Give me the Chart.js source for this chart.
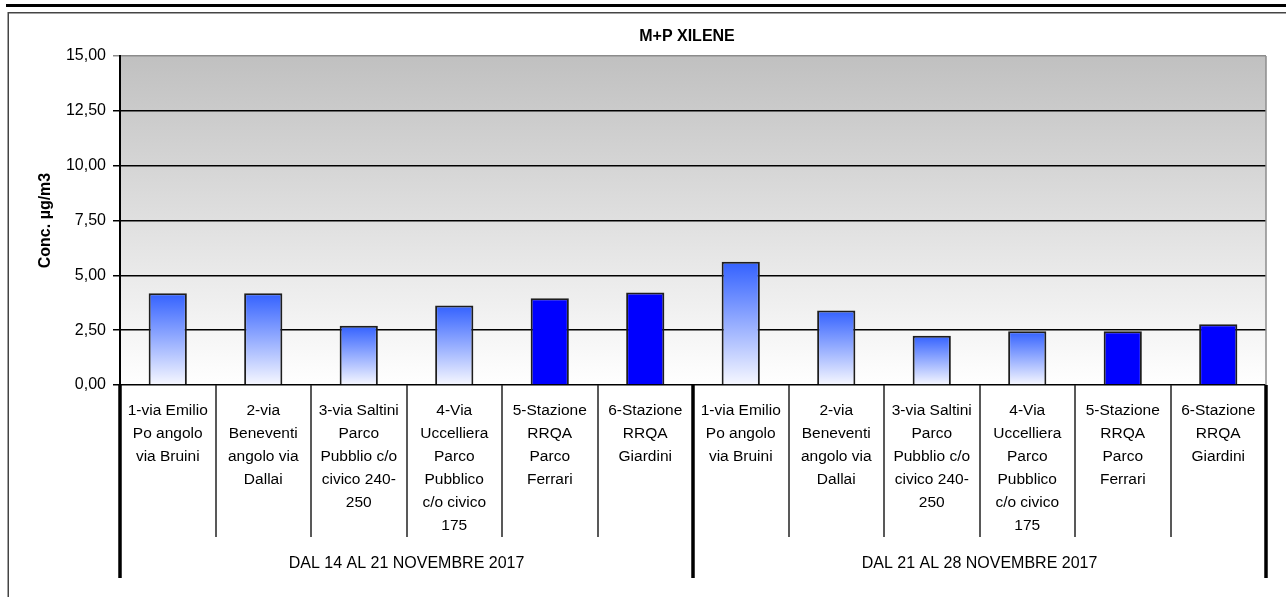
<!DOCTYPE html>
<html>
<head>
<meta charset="utf-8">
<title>M+P XILENE</title>
<script src="https://cdn.jsdelivr.net/npm/chart.js@4.4.1/dist/chart.umd.min.js"></script>
<style>
  html, body { margin: 0; padding: 0; background: #fff; }
  canvas { display: block; }
</style>
</head>
<body>
<canvas id="chart" width="1286" height="597"></canvas>
<script>
// stations, label already split in lines like the sheet shows them
const stations = [
    ['1-via Emilio', 'Po angolo', 'via Bruini'],
    ['2-via', 'Beneventi', 'angolo via', 'Dallai'],
    ['3-via Saltini', 'Parco', 'Pubblio c/o', 'civico 240-', '250'],
    ['4-Via', 'Uccelliera', 'Parco', 'Pubblico', 'c/o civico', '175'],
    ['5-Stazione', 'RRQA', 'Parco', 'Ferrari'],
    ['6-Stazione', 'RRQA', 'Giardini']
];
const periods = ['DAL 14 AL 21 NOVEMBRE 2017', 'DAL 21 AL 28 NOVEMBRE 2017'];
const week1 = [4.18, 4.18, 2.7, 3.62, 3.95, 4.22];
const week2 = [5.62, 3.4, 2.25, 2.45, 2.45, 2.77];
const yMin = 0, yMax = 15, yStep = 2.5;

const FONT = '"Liberation Sans", Arial, sans-serif';

const labels = periods.flatMap(() => stations);
const values = [...week1, ...week2];

// stations 1-4 have the blue->white fill, the two RRQA ones are plain blue
function barFill(c) {
    if (c.dataIndex % stations.length >= 4) return '#0000ff';
    const chart = c.chart;
    const y = chart.scales.y;
    if (!chart.chartArea || !y) return '#7f95ff';
    const top = y.getPixelForValue(c.raw);
    const bottom = y.getPixelForValue(0);
    const g = chart.ctx.createLinearGradient(0, top, 0, bottom);
    g.addColorStop(0, '#3361ff');
    g.addColorStop(1, '#f7f8ff');
    return g;
}

function line(ctx, x1, y1, x2, y2) {
    ctx.beginPath();
    ctx.moveTo(x1, y1);
    ctx.lineTo(x2, y2);
    ctx.stroke();
}

const decor = {
    id: 'decor',
    beforeDraw(chart) {
        const { ctx, chartArea: a } = chart;
        const g = ctx.createLinearGradient(0, a.top, 0, a.bottom);
        g.addColorStop(0, '#c0c0c0');
        g.addColorStop(1, '#ffffff');
        ctx.save();
        ctx.fillStyle = g;
        ctx.fillRect(a.left, a.top, a.right - a.left, a.bottom - a.top);
        ctx.restore();
    },
    afterDraw(chart) {
        const { ctx, chartArea: a } = chart;
        const x = chart.scales.x;
        const n = chart.data.labels.length;
        const half = (x.getPixelForValue(1) - x.getPixelForValue(0)) / 2;
        ctx.save();

        // right edge of the plot
        ctx.strokeStyle = '#8c8c8c';
        ctx.lineWidth = 1.5;
        line(ctx, a.right, a.top, a.right, a.bottom);

        // category separators, thicker between the two periods
        for (let i = 0; i <= n; i++) {
            const bx = Math.round(i < n ? x.getPixelForValue(i) - half : x.getPixelForValue(n - 1) + half);
            const major = i % stations.length === 0;
            ctx.lineWidth = major ? 3.5 : 1.5;
            ctx.strokeStyle = major ? '#000' : '#222';
            line(ctx, bx, a.bottom, bx, major ? 578 : 537);
        }

        ctx.fillStyle = '#000';
        ctx.textAlign = 'center';
        ctx.textBaseline = 'alphabetic';
        ctx.font = '15.5px ' + FONT;
        chart.data.labels.forEach((rows, i) => {
            const cx = x.getPixelForValue(i);
            rows.forEach((t, k) => ctx.fillText(t, cx, a.bottom + 30 + k * 23));
        });

        ctx.font = '16px ' + FONT;
        periods.forEach((p, j) => {
            const first = j * stations.length;
            const last = first + stations.length - 1;
            const cx = (x.getPixelForValue(first) + x.getPixelForValue(last)) / 2;
            ctx.fillText(p, cx, 568);
        });

        ctx.font = 'bold 16px ' + FONT;
        ctx.fillText('M+P XILENE', (a.left + a.right) / 2 - 6, 41);

        // sheet borders around the chart
        ctx.fillStyle = '#000';
        ctx.fillRect(6, 4, 1280, 3);
        ctx.fillStyle = '#444';
        ctx.fillRect(8, 12, 1278, 1.5);
        ctx.fillRect(7.5, 12, 1.5, 585);

        ctx.fillStyle = '#000';
        ctx.translate(50, (a.top + a.bottom) / 2);
        ctx.rotate(-Math.PI / 2);
        ctx.font = 'bold 16px ' + FONT;
        ctx.fillText('Conc. µg/m3', 0, 0);
        ctx.restore();
    }
};

new Chart(document.getElementById('chart').getContext('2d'), {
    type: 'bar',
    data: {
        labels: labels,
        datasets: [{
            label: 'M+P XILENE',
            data: values,
            backgroundColor: barFill,
            borderColor: '#1e1e1e',
            borderWidth: 2,
            categoryPercentage: 1,
            barPercentage: 0.4
        }]
    },
    options: {
        responsive: false,
        animation: false,
        events: [],
        layout: { padding: { left: 0, top: 56, right: 20, bottom: 0 } },
        plugins: {
            legend: { display: false },
            tooltip: { enabled: false },
            title: { display: false }
        },
        scales: {
            x: {
                type: 'category',
                ticks: { display: false },
                grid: { display: false },
                border: { display: false },
                afterFit: s => { s.height = 212; }
            },
            y: {
                min: yMin,
                max: yMax,
                ticks: {
                    stepSize: yStep,
                    padding: 7,
                    color: '#000',
                    font: { family: FONT, size: 16 },
                    callback: v => v.toFixed(2).replace('.', ',')
                },
                grid: {
                    color: c => (c.tick && c.tick.value === yMax) ? '#8c8c8c' : '#000',
                    lineWidth: 1.5,
                    tickLength: 7
                },
                border: { display: true, color: '#000', width: 2 },
                afterFit: s => { s.width = 120; }
            }
        }
    },
    plugins: [decor]
});
</script>
</body>
</html>
